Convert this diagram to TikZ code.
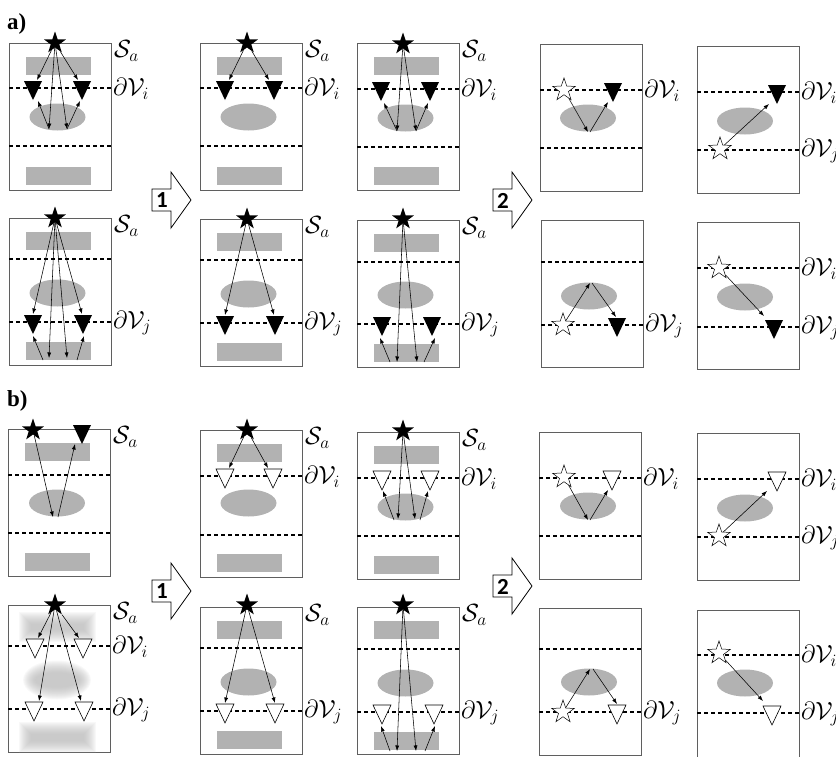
\documentclass[tikz,border=0pt]{standalone}
\usepackage{fontspec}
\newfontfamily\digitfont{Carlito}
\newfontfamily\tagfont{Liberation Serif}
\usetikzlibrary{shapes.geometric,arrows.meta}
\definecolor{regiongray}{RGB}{178,178,178}
\definecolor{boxgray}{RGB}{95,95,95}
\tikzset{
 panelbox/.style={draw=boxgray, line width=0.9pt},
 bound/.style={line width=1.7pt, dash pattern=on 4pt off 3pt},
 reg/.style={fill=regiongray},
 ray/.style={line width=0.55pt, -{Latex[length=5.5pt,width=4pt]}},
 fstar/.style={star, star points=5, star point ratio=2.55, fill=black, inner sep=0pt, minimum size=23pt},
 ostar/.style={star, star points=5, star point ratio=2.55, fill=white, draw=black, line width=0.5pt, inner sep=0pt, minimum size=24pt},
 otri/.style={fill=white, draw=black, line width=0.6pt},
 lab/.style={anchor=west, inner sep=0pt, font=\fontsize{25}{28}\selectfont},
 blockarrow/.style={draw=black, line width=0.8pt, fill=white},
 digit/.style={inner sep=0pt, font=\digitfont\bfseries\fontsize{23}{24}\selectfont},
 tag/.style={anchor=base west, inner sep=0pt, font=\tagfont\bfseries\fontsize{23}{25}\selectfont},
}
\newcommand\pbox{\draw[panelbox] (0,0) rectangle (102,147);}
\newcommand\prects{\fill[reg] (17,14) rectangle (82,32); \fill[reg] (17,124) rectangle (82,142);}
\newcommand\pell[2]{\fill[reg] (#1,#2) ellipse [x radius=28, y radius=13.5];}
\newcommand\pdash[1]{\draw[bound] (0,#1) -- (102,#1);}
\newcommand\mkftri[1]{\fill[black] (#1) +(-9,-7) -- +(9,-7) -- +(0,12) -- cycle;}
\newcommand\mkotri[1]{\filldraw[otri] (#1) +(-9,-7) -- +(9,-7) -- +(0,12) -- cycle;}
\newcommand\labS[1]{\node[lab] (#1) at (105,8) {$\mathcal{S}_a$};}
\newcommand\labI[2]{\node[lab] (#1) at (104,#2) {$\partial\mathcal{V}_i$};}
\newcommand\labJ[2]{\node[lab] (#1) at (104,#2) {$\partial\mathcal{V}_j$};}
\newcommand\blockarr[4]{%
 \begin{scope}[shift={(#2,#3)}]
 \draw[blockarrow] (0,-11) -- (19,-11) -- (19,-28) -- (39,0) -- (19,28) -- (19,11) -- (0,11) -- cycle;
 \node[digit] (#1) at (10,0.5) {#4};
 \end{scope}}
\begin{document}
\begin{tikzpicture}[x=1pt,y=-1pt]
\useasboundingbox (0,0) rectangle (836,756);
\node[tag] (taga) at (7,29) {a)};
\node[tag] (tagb) at (7,406) {b)};
% ---------- a) top row
\begin{scope}[shift={(9,43)}]
 \pbox \prects \pell{48.5}{74} \pdash{45} \pdash{103}
 \coordinate (A1L) at (24,45); \coordinate (A1R) at (73,45);
 \mkftri{A1L} \mkftri{A1R}
 \node[fstar] (A1s) at (46,0) {};
 \coordinate (A1p) at (40,86); \coordinate (A1q) at (58,86);
 \coordinate (A1Lt) at (28,37); \coordinate (A1Rt) at (69,37);
 \coordinate (A1Lb) at (29,58); \coordinate (A1Rb) at (71,58);
 \draw[ray] (A1s) -- (A1Lt); \draw[ray] (A1s) -- (A1Rt);
 \draw[ray] (A1s) -- (A1p); \draw[ray] (A1s) -- (A1q);
 \draw[ray] (A1p) -- (A1Lb); \draw[ray] (A1q) -- (A1Rb);
 \labS{A1la} \labI{A1lb}{46}
\end{scope}
\begin{scope}[shift={(200,43)}]
 \pbox \prects \pell{48.5}{74} \pdash{45} \pdash{103}
 \coordinate (A2L) at (25,45); \coordinate (A2R) at (74,45);
 \mkftri{A2L} \mkftri{A2R}
 \node[fstar] (A2s) at (47,0) {};
 \coordinate (A2Lt) at (29,37); \coordinate (A2Rt) at (69,37);
 \draw[ray] (A2s) -- (A2Lt); \draw[ray] (A2s) -- (A2Rt);
 \labS{A2la} \labI{A2lb}{46}
\end{scope}
\begin{scope}[shift={(357,43)}]
 \pbox \prects \pell{48.5}{75} \pdash{46} \pdash{104}
 \coordinate (A3L) at (24,46); \coordinate (A3R) at (73,46);
 \mkftri{A3L} \mkftri{A3R}
 \node[fstar] (A3s) at (46,1) {};
 \coordinate (A3p) at (40,88); \coordinate (A3q) at (59,88);
 \coordinate (A3Lb) at (27,60); \coordinate (A3Rb) at (71,60);
 \draw[ray] (A3s) -- (A3p); \draw[ray] (A3s) -- (A3q);
 \draw[ray] (A3p) -- (A3Lb); \draw[ray] (A3q) -- (A3Rb);
 \labS{A3la} \labI{A3lb}{47}
\end{scope}
\begin{scope}[shift={(540,44)}]
 \pbox \pell{48}{74} \pdash{46} \pdash{104}
 \coordinate (A4R) at (73,46); \mkftri{A4R}
 \node[ostar] (A4s) at (24,46) {};
 \coordinate (A4p) at (48,88); \coordinate (A4p2) at (50,88); \coordinate (A4Rb) at (68,58);
 \draw[ray] (A4s) -- (A4p); \draw[ray] (A4p2) -- (A4Rb);
 \labI{A4lb}{47}
\end{scope}
\begin{scope}[shift={(697,46)}]
 \pbox \pell{48}{75} \pdash{46} \pdash{104}
 \coordinate (A5R) at (80,46); \mkftri{A5R}
 \node[ostar] (A5s) at (23,103) {};
 \coordinate (A5Rb) at (72,58);
 \draw[ray] (A5s) -- (A5Rb);
 \labI{A5lb}{47} \labJ{A5lc}{105}
\end{scope}
% ---------- a) bottom row
\begin{scope}[shift={(9,218)}]
 \pbox \prects \pell{48.5}{75} \pdash{41} \pdash{104}
 \coordinate (A6L) at (24,104); \coordinate (A6R) at (74,104);
 \mkftri{A6L} \mkftri{A6R}
 \node[fstar] (A6s) at (46,0) {};
 \coordinate (A6Lt) at (24,96); \coordinate (A6Rt) at (73,96);
 \coordinate (A6p) at (40,140); \coordinate (A6q) at (58,140);
 \coordinate (A6p2) at (34,142); \coordinate (A6q2) at (68,142);
 \coordinate (A6Lb) at (24,118); \coordinate (A6Rb) at (75,118);
 \draw[ray] (A6s) -- (A6Lt); \draw[ray] (A6s) -- (A6Rt);
 \draw[ray] (A6s) -- (A6p); \draw[ray] (A6s) -- (A6q);
 \draw[ray] (A6p2) -- (A6Lb); \draw[ray] (A6q2) -- (A6Rb);
 \labS{A6la} \labJ{A6lc}{105}
\end{scope}
\begin{scope}[shift={(200,219)}]
 \pbox \prects \pell{48.5}{75} \pdash{41} \pdash{104}
 \coordinate (A7L) at (25,104); \coordinate (A7R) at (75,104);
 \mkftri{A7L} \mkftri{A7R}
 \node[fstar] (A7s) at (47,0) {};
 \coordinate (A7Lt) at (25,96); \coordinate (A7Rt) at (74,96);
 \draw[ray] (A7s) -- (A7Lt); \draw[ray] (A7s) -- (A7Rt);
 \labS{A7la} \labJ{A7lc}{105}
\end{scope}
\begin{scope}[shift={(357,220)}]
 \pbox \prects \pell{48.5}{75} \pdash{42} \pdash{104}
 \coordinate (A8L) at (25,104); \coordinate (A8R) at (75,104);
 \mkftri{A8L} \mkftri{A8R}
 \node[fstar] (A8s) at (46,-1) {};
 \coordinate (A8p) at (40,142); \coordinate (A8q) at (60,142);
 \coordinate (A8p2) at (33,142); \coordinate (A8q2) at (67,142);
 \coordinate (A8Lb) at (23,118); \coordinate (A8Rb) at (78,118);
 \draw[ray] (A8s) -- (A8p); \draw[ray] (A8s) -- (A8q);
 \draw[ray] (A8p2) -- (A8Lb); \draw[ray] (A8q2) -- (A8Rb);
 \labS{A8la} \labJ{A8lc}{105}
\end{scope}
\begin{scope}[shift={(541,220)}]
 \pbox \pell{48}{76} \pdash{42} \pdash{105}
 \coordinate (A9R) at (76,105); \mkftri{A9R}
 \node[ostar] (A9s) at (22,105) {};
 \coordinate (A9p) at (49,63); \coordinate (A9p2) at (51,63); \coordinate (A9Rt) at (75,97);
 \draw[ray] (A9s) -- (A9p); \draw[ray] (A9p2) -- (A9Rt);
 \labJ{A9lc}{106}
\end{scope}
\begin{scope}[shift={(697,222)}]
 \pbox \pell{48}{75} \pdash{46} \pdash{105}
 \coordinate (A10R) at (77,105); \mkftri{A10R}
 \node[ostar] (A10s) at (22,46) {};
 \coordinate (A10Rt) at (67,94);
 \draw[ray] (A10s) -- (A10Rt);
 \labI{A10lb}{47} \labJ{A10lc}{106}
\end{scope}
\blockarr{arr1a}{152}{200}{1}
\blockarr{arr2a}{493}{200}{2}
% ---------- b) top row
\begin{scope}[shift={(8,429)}]
 \pbox \prects \pell{49}{74} \pdash{46} \pdash{104}
 \coordinate (B1R) at (74,3); \mkftri{B1R}
 \node[fstar] (B1s) at (25,1) {};
 \coordinate (B1p) at (45,88); \coordinate (B1p2) at (50,88); \coordinate (B1Rb) at (67,15);
 \draw[ray] (B1s) -- (B1p); \draw[ray] (B1p2) -- (B1Rb);
 \labS{B1la}
\end{scope}
\begin{scope}[shift={(200,430)}]
 \pbox \prects \pell{48.5}{73} \pdash{46} \pdash{105}
 \coordinate (B2L) at (25,46); \coordinate (B2R) at (73,46);
 \mkotri{B2L} \mkotri{B2R}
 \node[fstar] (B2s) at (47,0) {};
 \coordinate (B2Lt) at (29,38); \coordinate (B2Rt) at (68,38);
 \draw[ray] (B2s) -- (B2Lt); \draw[ray] (B2s) -- (B2Rt);
 \labS{B2la} \labI{B2lb}{47}
\end{scope}
\begin{scope}[shift={(357,432)}]
 \pbox \prects \pell{48.5}{75} \pdash{46} \pdash{104}
 \coordinate (B3L) at (25,46); \coordinate (B3R) at (73,46);
 \mkotri{B3L} \mkotri{B3R}
 \node[fstar] (B3s) at (46,-1) {};
 \coordinate (B3p) at (41,87); \coordinate (B3q) at (58,87);
 \coordinate (B3p2) at (37,88); \coordinate (B3q2) at (63,88);
 \coordinate (B3Lb) at (26,59); \coordinate (B3Rb) at (71,59);
 \draw[ray] (B3s) -- (B3p); \draw[ray] (B3s) -- (B3q);
 \draw[ray] (B3p2) -- (B3Lb); \draw[ray] (B3q2) -- (B3Rb);
 \labS{B3la} \labI{B3lb}{47}
\end{scope}
\begin{scope}[shift={(539,432)}]
 \pbox \pell{49}{74} \pdash{46} \pdash{104}
 \coordinate (B4R) at (73,46); \mkotri{B4R}
 \node[ostar] (B4s) at (25,45) {};
 \coordinate (B4p) at (49,88); \coordinate (B4p2) at (51,88); \coordinate (B4Rb) at (69,58);
 \draw[ray] (B4s) -- (B4p); \draw[ray] (B4p2) -- (B4Rb);
 \labI{B4lb}{47}
\end{scope}
\begin{scope}[shift={(697,433)}]
 \pbox \pell{48}{75} \pdash{46} \pdash{104}
 \coordinate (B5R) at (80,46); \mkotri{B5R}
 \node[ostar] (B5s) at (22,103) {};
 \coordinate (B5Rb) at (70,58);
 \draw[ray] (B5s) -- (B5Rb);
 \labI{B5lb}{47} \labJ{B5lc}{105}
\end{scope}
% ---------- b) bottom row
\begin{scope}[shift={(8,605)}]
 \pbox
 \foreach \e in {6,5,...,-6}{
  \fill[regiongray, opacity=0.085] (17-\e,13-\e) rectangle (82+\e,31+\e);
  \fill[regiongray, opacity=0.085] (17-\e,123-\e) rectangle (82+\e,142+\e);
  \fill[regiongray, opacity=0.085] (49,75) ellipse [x radius=28+\e, y radius=13.5+\e];
 }
 \pdash{41} \pdash{104}
 \coordinate (B6L) at (27,41); \coordinate (B6R) at (75,41);
 \coordinate (B6L2) at (26,104); \coordinate (B6R2) at (76,104);
 \mkotri{B6L} \mkotri{B6R} \mkotri{B6L2} \mkotri{B6R2}
 \node[fstar] (B6s) at (47,0) {};
 \coordinate (B6Lt) at (30,33); \coordinate (B6Rt) at (71,33);
 \coordinate (B6L2t) at (31,96); \coordinate (B6R2t) at (73,96);
 \draw[ray] (B6s) -- (B6Lt); \draw[ray] (B6s) -- (B6Rt);
 \draw[ray] (B6s) -- (B6L2t); \draw[ray] (B6s) -- (B6R2t);
 \labS{B6la} \labI{B6lb}{42} \labJ{B6lc}{105}
\end{scope}
\begin{scope}[shift={(200,607)}]
 \pbox \prects \pell{48.5}{75} \pdash{41} \pdash{104}
 \coordinate (B7L) at (25,104); \coordinate (B7R) at (75,104);
 \mkotri{B7L} \mkotri{B7R}
 \node[fstar] (B7s) at (47,-2) {};
 \coordinate (B7Lt) at (25,96); \coordinate (B7Rt) at (75,96);
 \draw[ray] (B7s) -- (B7Lt); \draw[ray] (B7s) -- (B7Rt);
 \labS{B7la} \labJ{B7lc}{105}
\end{scope}
\begin{scope}[shift={(357,607)}]
 \pbox \fill[reg] (17,14) rectangle (82,32); \fill[reg] (17,125) rectangle (82,143);
 \pell{48.5}{76} \pdash{42} \pdash{105}
 \coordinate (B8L) at (25,105); \coordinate (B8R) at (77,105);
 \mkotri{B8L} \mkotri{B8R}
 \node[fstar] (B8s) at (46,-2) {};
 \coordinate (B8p) at (40,144); \coordinate (B8q) at (59,144);
 \coordinate (B8p2) at (33,144); \coordinate (B8q2) at (68,144);
 \coordinate (B8Lb) at (24,119); \coordinate (B8Rb) at (78,119);
 \draw[ray] (B8s) -- (B8p); \draw[ray] (B8s) -- (B8q);
 \draw[ray] (B8p2) -- (B8Lb); \draw[ray] (B8q2) -- (B8Rb);
 \labS{B8la} \labJ{B8lc}{106}
\end{scope}
\begin{scope}[shift={(539,608)}]
 \pbox \pell{50}{74} \pdash{41} \pdash{104}
 \coordinate (B9R) at (78,104); \mkotri{B9R}
 \node[ostar] (B9s) at (24,104) {};
 \coordinate (B9p) at (51,61); \coordinate (B9p2) at (54,61); \coordinate (B9Rt) at (78,96);
 \draw[ray] (B9s) -- (B9p); \draw[ray] (B9p2) -- (B9Rt);
 \labJ{B9lc}{105}
\end{scope}
\begin{scope}[shift={(697,610)}]
 \pbox \pell{48}{73} \pdash{45} \pdash{103}
 \coordinate (B10R) at (75,103); \mkotri{B10R}
 \node[ostar] (B10s) at (22,43) {};
 \coordinate (B10Rt) at (66,91);
 \draw[ray] (B10s) -- (B10Rt);
 \labI{B10lb}{46} \labJ{B10lc}{104}
\end{scope}
\blockarr{arr1b}{152}{591}{1}
\blockarr{arr2b}{493}{586}{2}
\end{tikzpicture}
\end{document}
